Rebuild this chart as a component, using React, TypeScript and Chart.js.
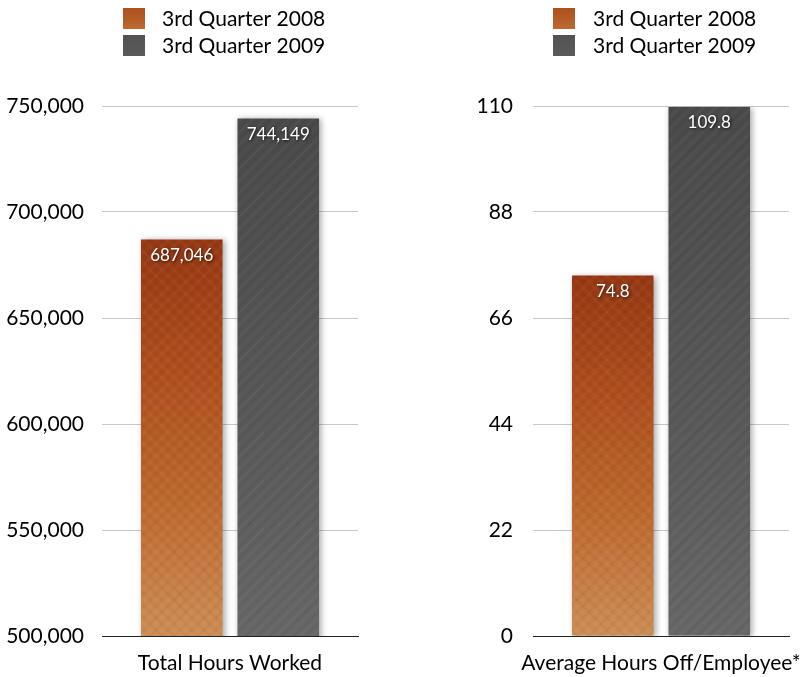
import React, { useEffect, useRef } from 'react';
import { Chart, registerables } from 'chart.js';

Chart.register(...registerables);

const SERIES_LABELS = ['3rd Quarter 2008', '3rd Quarter 2009'];

const LEFT_CATEGORIES = ['Total Hours Worked'];
const LEFT_2008 = [687046];
const LEFT_2009 = [744149];
const LEFT_TICKS = [500000, 550000, 600000, 650000, 700000, 750000];

const RIGHT_CATEGORIES = ['Average Hours Off/Employee*'];
const RIGHT_2008 = [74.8];
const RIGHT_2009 = [109.8];
const RIGHT_TICKS = [0, 22, 44, 66, 88, 110];

const FONT = 'Lato, "Open Sans", sans-serif';

const ORANGE_STOPS = ['#953814', '#ad4f1d', '#bd6a30', '#cc8e56'];
const GRAY_STOPS = ['#4a4a4a', '#525252', '#5b5b5b', '#676767'];

function makeGradient(ctx: CanvasRenderingContext2D, top: number, bottom: number, stops: string[]) {
  const g = ctx.createLinearGradient(0, top, 0, bottom);
  stops.forEach((c, i) => g.addColorStop(i / (stops.length - 1), c));
  return g;
}

function makeTexture(kind: number): CanvasPattern | null {
  const c = document.createElement('canvas');
  c.width = 48;
  c.height = 48;
  const g = c.getContext('2d');
  if (!g) return null;
  g.lineWidth = 1.5;
  for (let k = -8; k < 16; k++) {
    const s = k * 6;
    const alpha = 0.04 + 0.035 * (((k + 16) * 37) % 5) / 4;
    g.strokeStyle = kind === 0
      ? (k % 2 === 0 ? `rgba(255,205,150,${alpha})` : `rgba(90,25,5,${alpha})`)
      : (k % 2 === 0 ? `rgba(255,255,255,${alpha * 0.7})` : `rgba(0,0,0,${alpha})`);
    g.beginPath();
    g.moveTo(s, 48);
    g.lineTo(s + 48, 0);
    g.stroke();
    if (kind === 0) {
      g.beginPath();
      g.moveTo(s, 0);
      g.lineTo(s + 48, 48);
      g.stroke();
    }
  }
  return g.createPattern(c, 'repeat');
}

type PanelProps = {
  categories: string[];
  a: number[];
  b: number[];
  ticks: number[];
  fmt: (v: number) => string;
  axisWidth: number;
  tickPad: number;
  padRight: number;
  legendX: number;
  legendTextX: number;
};

function Panel(props: PanelProps) {
  const ref = useRef<HTMLCanvasElement | null>(null);
  useEffect(() => {
    const canvas = ref.current;
    if (!canvas) return;
    const { categories, a, b, ticks, fmt, axisWidth, tickPad, padRight, legendX, legendTextX } = props;
    const min = ticks[0];
    const max = ticks[ticks.length - 1];
    const textures = [makeTexture(0), makeTexture(1)];

    const barFill = (stops: string[]) => (c: any) => {
      const chart = c.chart;
      const area = chart.chartArea;
      if (!area || c.type !== 'data') return stops[1];
      const top = chart.scales.y.getPixelForValue(c.raw);
      return makeGradient(chart.ctx, top, area.bottom, stops);
    };

    const decor = {
      id: 'decor',
      beforeDatasetsDraw(chart: any) {
        const ctx = chart.ctx;
        ctx.save();
        ctx.shadowColor = 'rgba(0,0,0,0.35)';
        ctx.shadowBlur = 6;
        ctx.shadowOffsetX = 2;
        ctx.shadowOffsetY = 1;
      },
      afterDatasetsDraw(chart: any) {
        const ctx = chart.ctx;
        ctx.restore();
        const area = chart.chartArea;
        const yScale = chart.scales.y;
        chart.data.datasets.forEach((ds: any, di: number) => {
          const meta = chart.getDatasetMeta(di);
          meta.data.forEach((el: any, i: number) => {
            const p = el.getProps(['x', 'width'], true);
            const x0 = p.x - p.width / 2;
            const top = yScale.getPixelForValue(ds.data[i]);
            const bottom = area.bottom;
            const tex = textures[di];
            if (tex) {
              ctx.save();
              ctx.fillStyle = tex;
              ctx.fillRect(x0, top, p.width, bottom - top);
              ctx.restore();
            }
            ctx.save();
            ctx.font = `17px ${FONT}`;
            ctx.fillStyle = '#ffffff';
            ctx.textAlign = 'center';
            ctx.textBaseline = 'middle';
            ctx.shadowColor = 'rgba(0,0,0,0.75)';
            ctx.shadowBlur = 3;
            ctx.shadowOffsetX = 1;
            ctx.shadowOffsetY = 1;
            ctx.fillText(fmt(ds.data[i]), p.x, top + 16);
            ctx.restore();
          });
        });
      },
      afterDraw(chart: any) {
        const ctx = chart.ctx;
        ctx.save();
        const rows = [
          { y: 8, stops: ORANGE_STOPS },
          { y: 35, stops: GRAY_STOPS },
        ];
        rows.forEach((r, i) => {
          ctx.fillStyle = makeGradient(ctx, r.y, r.y + 21, r.stops.slice(1, 3));
          ctx.fillRect(legendX, r.y, 22, 21);
          ctx.font = `21px ${FONT}`;
          ctx.fillStyle = '#000000';
          ctx.textAlign = 'left';
          ctx.textBaseline = 'middle';
          ctx.fillText(SERIES_LABELS[i], legendTextX, r.y + 11);
        });
        ctx.restore();
      },
    };

    const chart = new Chart(canvas, {
      type: 'bar',
      data: {
        labels: categories,
        datasets: [
          { label: SERIES_LABELS[0], data: a, backgroundColor: barFill(ORANGE_STOPS) as any },
          { label: SERIES_LABELS[1], data: b, backgroundColor: barFill(GRAY_STOPS) as any },
        ],
      },
      options: {
        responsive: false,
        animation: false,
        devicePixelRatio: 1,
        categoryPercentage: 0.754,
        barPercentage: 0.845,
        layout: { padding: { top: 106, right: padRight, left: 0, bottom: 0 }, autoPadding: false },
        plugins: { legend: { display: false }, tooltip: { enabled: false } },
        scales: {
          x: {
            grid: { display: false, drawTicks: false },
            border: { display: true, color: '#222222', width: 1 },
            ticks: { color: '#000000', font: { family: FONT, size: 21 }, padding: 15, autoSkip: false, maxRotation: 0 },
            afterFit: (axis: any) => {
              axis.height = 41;
              axis.paddingLeft = 0;
              axis.paddingRight = 0;
            },
          },
          y: {
            min,
            max,
            afterBuildTicks: (axis: any) => { axis.ticks = ticks.map((v) => ({ value: v })); },
            afterFit: (axis: any) => {
              axis.width = axisWidth;
              axis.paddingTop = 0;
              axis.paddingBottom = 0;
            },
            grid: {
              drawTicks: false,
              color: (c: any) => (c.tick && c.tick.value === min ? '#222222' : '#c8c8c8'),
              lineWidth: 1,
            },
            border: { display: false },
            ticks: {
              color: '#000000',
              font: { family: FONT, size: 21 },
              padding: tickPad,
              callback: (v: any) => fmt(Number(v)),
            },
          },
        },
      },
      plugins: [decor],
    });
    return () => chart.destroy();
  }, []);
  return <canvas ref={ref} width={403} height={677} style={{ width: 403, height: 677, display: 'block' }} />;
}

const fmtThousands = (v: number) => v.toLocaleString('en-US');
const fmtPlain = (v: number) => String(v);

export default function App() {
  return (
    <div style={{ position: 'absolute', left: 0, top: 0, width: 806, height: 677, display: 'flex', background: '#ffffff' }}>
      <Panel
        categories={LEFT_CATEGORIES}
        a={LEFT_2008}
        b={LEFT_2009}
        ticks={LEFT_TICKS}
        fmt={fmtThousands}
        axisWidth={102}
        tickPad={18}
        padRight={45}
        legendX={123}
        legendTextX={162}
      />
      <Panel
        categories={RIGHT_CATEGORIES}
        a={RIGHT_2008}
        b={RIGHT_2009}
        ticks={RIGHT_TICKS}
        fmt={fmtPlain}
        axisWidth={130}
        tickPad={20}
        padRight={17}
        legendX={150}
        legendTextX={190}
      />
    </div>
  );
}
